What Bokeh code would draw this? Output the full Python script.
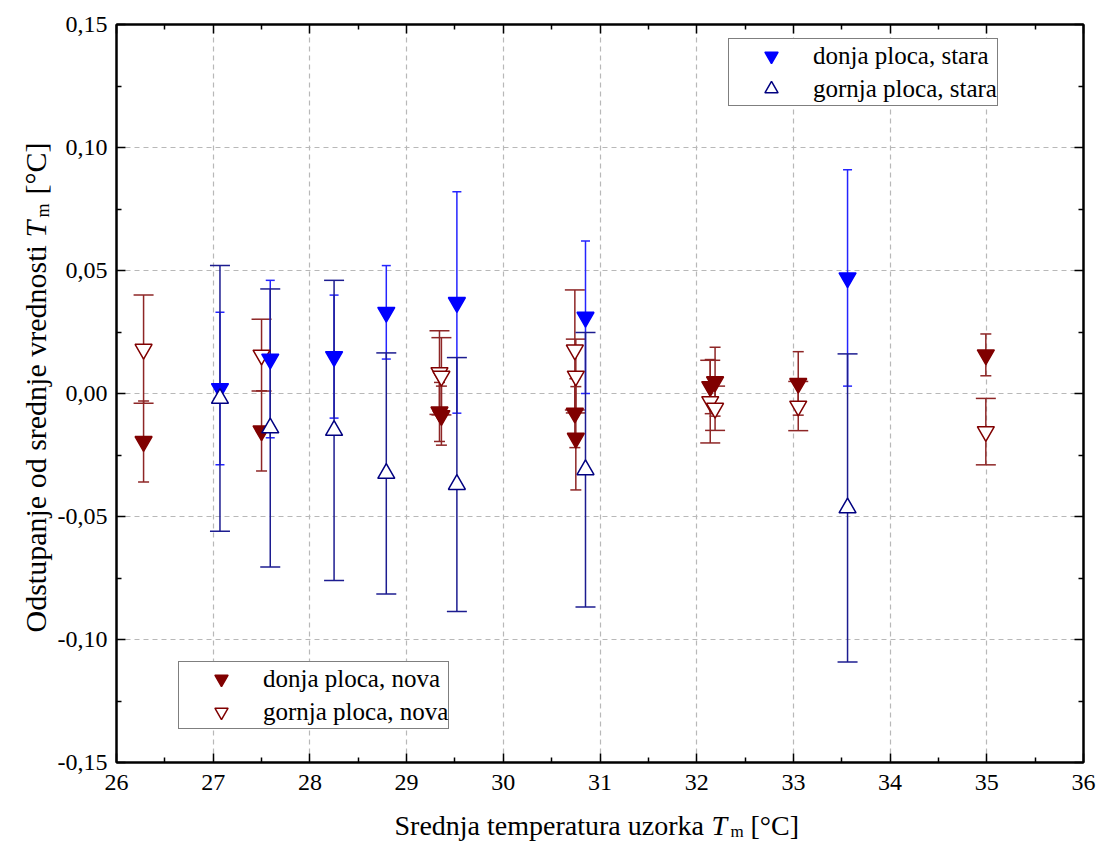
import numpy as np
from bokeh.plotting import figure
from bokeh.layouts import column, row
from bokeh.models import (Range1d, FixedTicker, LinearAxis, Whisker, TeeHead, ColumnDataSource,
                          Legend, LegendItem, CustomJSTickFormatter)
from bokeh.core.properties import value
from bokeh.embed import file_html
from bokeh.resources import INLINE

# ---------------- data ----------------
x_ticks = [26, 27, 28, 29, 30, 31, 32, 33, 34, 35, 36]
x_minor = [26.5, 27.5, 28.5, 29.5, 30.5, 31.5, 32.5, 33.5, 34.5, 35.5]
y_ticks = [-0.15, -0.10, -0.05, 0.0, 0.05, 0.10, 0.15]
y_tick_labels = ["-0,15", "-0,10", "-0,05", "0,00", "0,05", "0,10", "0,15"]
y_minor = [-0.125, -0.075, -0.025, 0.025, 0.075, 0.125]

# donja ploca, stara (filled blue)
ds_x = [27.07, 27.59, 28.25, 28.79, 29.52, 30.85, 33.56]
ds_y = [0.002, 0.014, 0.015, 0.033, 0.037, 0.031, 0.047]
ds_e = [0.031, 0.032, 0.025, 0.019, 0.045, 0.031, 0.044]

# gornja ploca, stara (open navy)
gs_x = [27.07, 27.59, 28.25, 28.79, 29.52, 30.85, 33.56]
gs_y = [-0.002, -0.014, -0.015, -0.0325, -0.037, -0.031, -0.0465]
gs_e = [0.054, 0.0565, 0.061, 0.049, 0.0516, 0.0558, 0.0626]

# donja ploca, nova (filled dark red)
dn_x = [26.28, 27.50, 29.34, 29.36, 30.74, 30.75, 32.14, 32.19, 33.05, 34.99]
dn_y = [-0.0195, -0.0152, -0.0075, -0.009, -0.008, -0.0182, 0.0028, 0.0048, 0.0041, 0.0157]
dn_e = [0.0165, 0.0163, 0.012, 0.012, 0.014, 0.021, 0.011, 0.014, 0.0129, 0.0085]

# gornja ploca, nova (open dark red)
gn_x = [26.28, 27.50, 29.34, 29.36, 30.74, 30.75, 32.14, 32.19, 33.05, 34.99]
gn_y = [0.018, 0.0156, 0.0085, 0.0070, 0.0177, 0.0071, -0.0033, -0.006, -0.0051, -0.0155]
gn_e = [0.022, 0.0146, 0.017, 0.0157, 0.0244, 0.015, 0.0168, 0.009, 0.010, 0.0135]

# ---------------- layout geometry ----------------
W, H = 1100, 843
YW = 54            # width of y-title strip
XH = 38            # height of x-title strip
FL, FR, FT, FB = 116, 1083, 24, 762   # frame edges in page px
PW, PH = W - YW, H - XH

SERIF = "Liberation Serif"

p = figure(width=PW, height=PH, output_backend="svg", toolbar_location=None, title=None,
           x_range=Range1d(26, 36), y_range=Range1d(-0.15, 0.15),
           min_border_left=FL - YW, min_border_right=W - FR, min_border_top=FT,
           min_border_bottom=PH - FB)
p.background_fill_color = "white"
p.border_fill_color = "white"
p.outline_line_color = "black"
p.outline_line_width = 2

xt = FixedTicker(ticks=x_ticks, minor_ticks=x_minor)
yt = FixedTicker(ticks=y_ticks, minor_ticks=y_minor)
yfmt = CustomJSTickFormatter(args=dict(tv=y_ticks, tl=y_tick_labels), code="""
let b = 0;
for (let i = 0; i < tv.length; i++) {
  if (Math.abs(tv[i] - tick) < Math.abs(tv[b] - tick)) b = i;
}
return tl[b];
""")


def style_axis(ax, show_labels, size="22px"):
    ax.axis_line_width = 2
    ax.axis_line_color = "black"
    ax.major_tick_in = 9
    ax.major_tick_out = 0
    ax.minor_tick_in = 5
    ax.minor_tick_out = 0
    ax.major_tick_line_width = 1.5
    ax.minor_tick_line_width = 1.5
    ax.major_tick_line_color = "black"
    ax.minor_tick_line_color = "black"
    ax.major_label_text_font = SERIF
    ax.major_label_text_color = "black"
    if show_labels:
        ax.major_label_text_font_size = size
        ax.major_label_standoff = 12
    else:
        ax.major_label_text_font_size = "0px"
        ax.major_label_standoff = 0


p.xaxis.ticker = xt
p.yaxis.ticker = yt
p.yaxis.formatter = yfmt
style_axis(p.xaxis[0], True, "24px")
style_axis(p.yaxis[0], True, "24px")
p.xaxis.major_label_standoff = 12
p.yaxis.major_label_standoff = 9

top_ax = LinearAxis(ticker=xt, formatter=CustomJSTickFormatter(code="return ''"))
right_ax = LinearAxis(ticker=yt, formatter=CustomJSTickFormatter(code="return ''"))
style_axis(top_ax, False)
style_axis(right_ax, False)
p.add_layout(top_ax, "above")
p.add_layout(right_ax, "right")

p.xgrid[0].ticker = xt
p.ygrid[0].ticker = yt
for g in (p.xgrid[0], p.ygrid[0]):
    g.grid_line_color = "#b8b8b8"
    g.grid_line_dash = "5 4"
    g.grid_line_width = 1.2


def add_series(xs, ys, es, marker, mcolor, fill, ecolor, cap):
    xs = np.array(xs); ys = np.array(ys); es = np.array(es)
    src = ColumnDataSource(dict(x=xs, y=ys, upper=ys + es, lower=ys - es))
    w = Whisker(source=src, base="x", upper="upper", lower="lower", dimension="height",
                line_color=ecolor, line_width=1.5,
                upper_head=TeeHead(size=cap, line_color=ecolor, line_width=1.5),
                lower_head=TeeHead(size=cap, line_color=ecolor, line_width=1.5))
    p.add_layout(w)
    r = p.scatter("x", "y", source=src, marker=marker, size=17,
                  fill_color=fill, line_color=mcolor, line_width=1.5)
    return r


r_dn = add_series(dn_x, dn_y, dn_e, "inverted_triangle", "#800000", "#800000", "#8e2626", 11)
r_gn = add_series(gn_x, gn_y, gn_e, "inverted_triangle", "#800000", "white", "#8e2626", 20)
r_ds = add_series(ds_x, ds_y, ds_e, "inverted_triangle", "#0000ff", "#0000ff", "#2424ff", 9)
r_gs = add_series(gs_x, gs_y, gs_e, "triangle", "#000080", "white", "#1c1c90", 20)

LEG_H = 66


def make_legend(items, loc):
    lg = Legend(items=items, location=loc)
    lg.label_text_font = SERIF
    lg.label_text_font_size = "25px"
    lg.label_text_color = "black"
    lg.border_line_color = "black"
    lg.border_line_width = 1.5
    lg.background_fill_color = "white"
    lg.background_fill_alpha = 1
    lg.margin = 0
    lg.padding = 0
    lg.glyph_height = 33
    lg.glyph_width = 84
    lg.spacing = 0
    lg.label_standoff = 0
    lg.label_height = 33
    return lg


leg_top = make_legend([LegendItem(label="donja ploca, stara", renderers=[r_ds]),
                       LegendItem(label="gornja ploca, stara", renderers=[r_gs])],
                      (728 - FL, FB - 40 - LEG_H))
leg_bot = make_legend([LegendItem(label="donja ploca, nova", renderers=[r_dn]),
                       LegendItem(label="gornja ploca, nova", renderers=[r_gn])],
                      (178 - FL, FB - 663 - LEG_H))
p.add_layout(leg_top)
p.add_layout(leg_bot)


# ---------------- axis titles (separate text strips, page-pixel coordinates) ----------------
def strip(width, height, xr, yr):
    f = figure(width=width, height=height, output_backend="svg", toolbar_location=None,
               title=None, x_range=Range1d(*xr), y_range=Range1d(*yr),
               x_axis_location=None, y_axis_location=None, min_border=0)
    f.outline_line_color = None
    f.grid.visible = False
    f.background_fill_color = "white"
    f.border_fill_color = "white"
    return f


def txt(f, x, y, s, size, style="normal", angle=0.0):
    f.text(x=[x], y=[y], text=[s], text_font=value(SERIF), text_font_size=value(size),
           text_font_style=style, angle=angle, text_align="left",
           text_baseline="alphabetic", text_color="black")


# y title strip (left); its frame is aligned with the main frame (rows align frames)
yf = strip(YW, PH, (0, YW), (FB, FT))
A = np.pi / 2
txt(yf, 35, 632, "Odstupanje od srednje vrednosti", "30px", angle=A)
txt(yf, 35, 237, "T", "30px", "italic", angle=A)
txt(yf, 42, 217, "m", "18px", angle=A)
txt(yf, 35, 194, "[°C]", "30px", angle=A)

# x title strip (bottom)
xf = strip(W, XH, (0, W), (H, PH))
txt(xf, 394, 825, "Srednja temperatura uzorka", "28px")
txt(xf, 711, 825, "T", "28px", "italic")
txt(xf, 730, 831, "m", "17px")
txt(xf, 750, 825, "[°C]", "28px")

layout = column(row(yf, p, spacing=0), xf, spacing=0)

open("out.html", "w").write(file_html(layout, INLINE))
